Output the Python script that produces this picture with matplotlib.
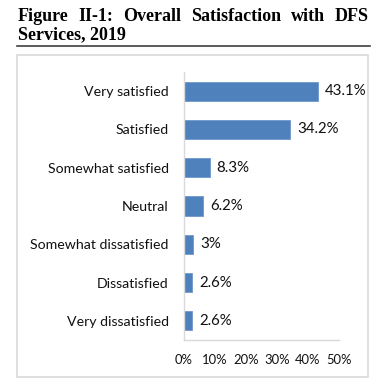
import matplotlib

matplotlib.use("Agg")
import matplotlib.pyplot as plt
from matplotlib.patches import Rectangle
from matplotlib.lines import Line2D

categories = [
    "Very satisfied",
    "Satisfied",
    "Somewhat satisfied",
    "Neutral",
    "Somewhat dissatisfied",
    "Dissatisfied",
    "Very dissatisfied",
]
values = [43.1, 34.2, 8.3, 6.2, 3.0, 2.6, 2.6]
value_labels = ["43.1%", "34.2%", "8.3%", "6.2%", "3%", "2.6%", "2.6%"]
x_ticks = [0, 10, 20, 30, 40, 50]
title_line1 = ["Figure", "II-1:", "Overall", "Satisfaction", "with", "DFS"]
title_line2 = "Services, 2019"

W, H = 391, 390
fig = plt.figure(figsize=(W / 100, H / 100), dpi=100)
fig.patch.set_facecolor("white")

label_font = "Lato"
title_font = "Liberation Serif"

# title, justified across the width
renderer = fig.canvas.get_renderer()
left_px, right_px = 18, 369
words = []
total = 0
for w in title_line1:
    t = fig.text(0, 0, w, fontsize=13, fontweight="bold", family=title_font)
    bb = t.get_window_extent(renderer)
    words.append((t, bb.width))
    total += bb.width
gap = (right_px - left_px - total) / (len(words) - 1)
x = left_px
for t, wd in words:
    t.set_position((x / W, 1 - 21 / H))
    x += wd + gap
fig.text(left_px / W, 1 - 39 / H, title_line2, fontsize=13, fontweight="bold",
         family=title_font)
fig.add_artist(Line2D([17 / W, 370 / W], [1 - 46 / H, 1 - 46 / H], color="#404040", lw=1.2))

# light frame around the chart area
fig.add_artist(Rectangle((17 / W, 1 - 377 / H), (368 - 17) / W, (377 - 55) / H,
                         fill=False, edgecolor="#d9d9d9", lw=1.2))

ax = fig.add_axes([184 / W, 50 / H, 155 / W, 268 / H])
ypos = list(range(len(categories)))
bars = ax.barh(ypos, values, height=0.5, color="#4f81bd", edgecolor="#6d97c9", lw=0.6)
ax.set_ylim(len(categories) - 0.5, -0.5)
ax.set_xlim(0, 50)
ax.set_yticks(ypos)
ax.set_yticklabels(categories, fontsize=10.2, family=label_font, color="#111111")
ax.set_xticks(x_ticks)
ax.set_xticklabels([f"{v}%" for v in x_ticks], fontsize=9.4, family=label_font, color="#111111")
ax.tick_params(axis="y", length=0, pad=11)
ax.tick_params(axis="x", length=0, pad=10)
for s in ["top", "right"]:
    ax.spines[s].set_visible(False)
for s in ["left", "bottom"]:
    ax.spines[s].set_color("#d9d9d9")
    ax.spines[s].set_linewidth(1.0)

for bar, lab in zip(bars, value_labels):
    ax.annotate(lab, (bar.get_width(), bar.get_y() + bar.get_height() / 2),
                xytext=(5, 0), textcoords="offset points", va="center", ha="left",
                fontsize=10.8, family=label_font, color="#111111", annotation_clip=False)

fig.savefig("out.png", dpi=100)
